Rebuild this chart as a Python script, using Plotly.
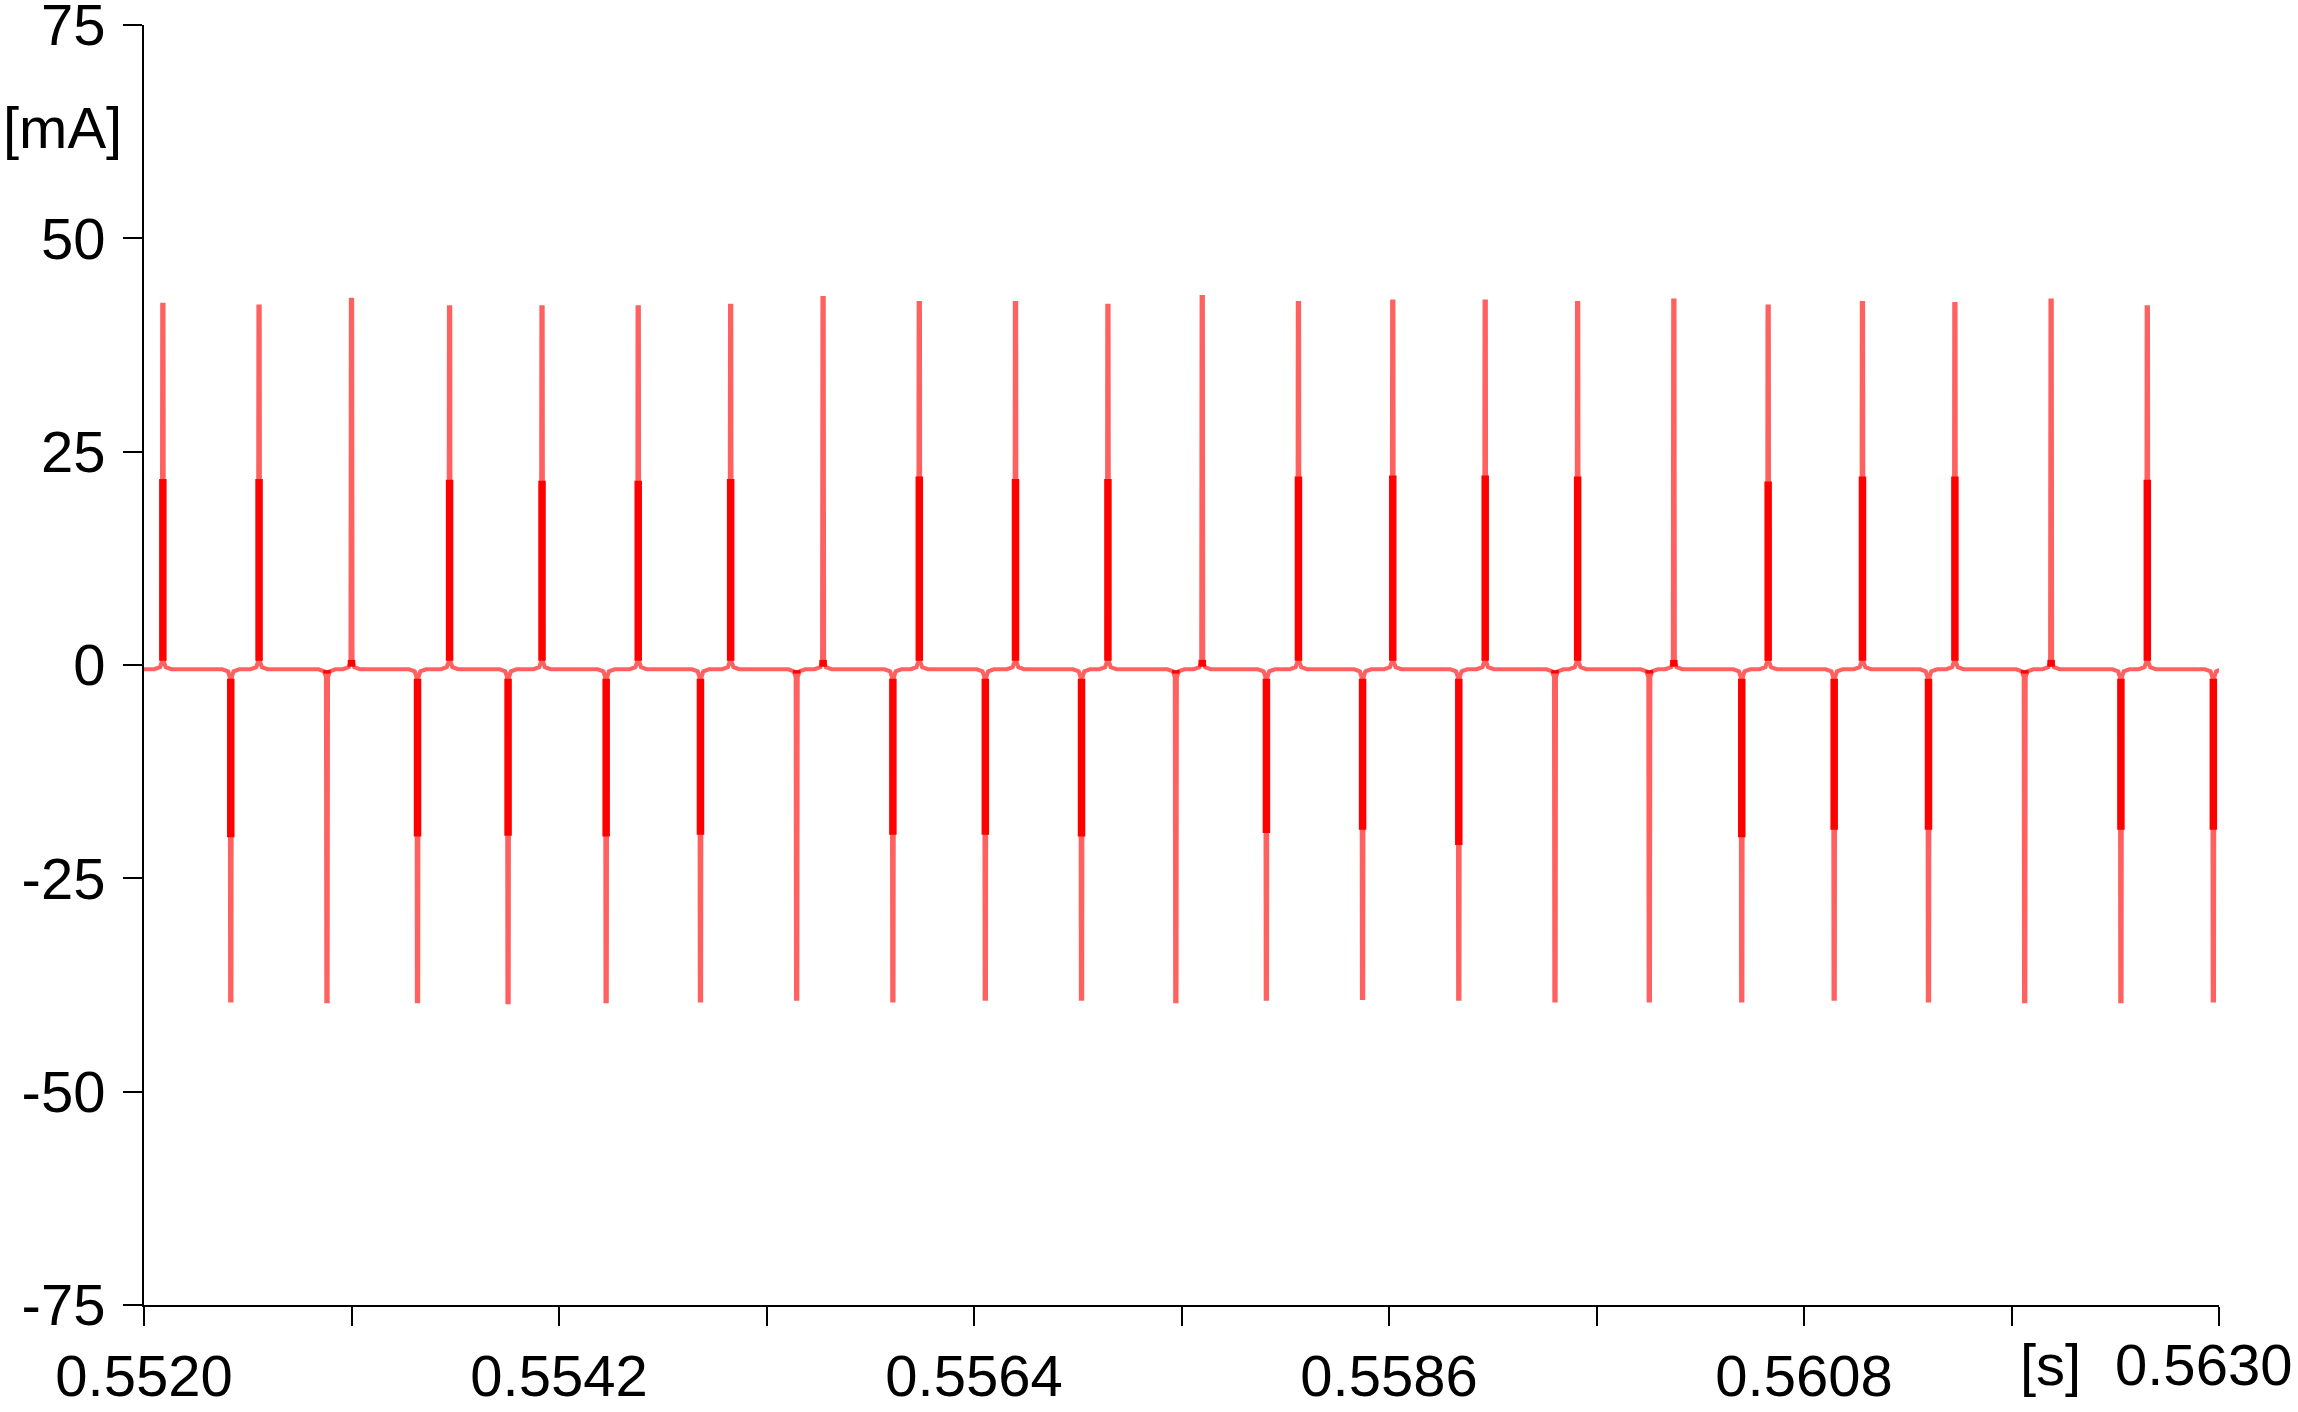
import plotly.graph_objects as go

# time of each spike [s] and amplitude [mA]
pos_t = [0.55210, 0.55261, 0.55310, 0.55362, 0.55411, 0.55462, 0.55511, 0.55560,
         0.55611, 0.55662, 0.55711, 0.55761, 0.55812, 0.55862, 0.55911, 0.55960,
         0.56011, 0.56061, 0.56111, 0.56160, 0.56211, 0.56262]
pos_peak = [42.2, 42.0, 42.8, 41.9, 41.9, 41.9, 42.1, 43.0, 42.4, 42.4, 42.1,
            43.1, 42.4, 42.6, 42.6, 42.4, 42.7, 42.0, 42.4, 42.3, 42.7, 41.9]
pos_red = [21.8, 21.8, 0.6, 21.7, 21.6, 21.6, 21.8, 0.6, 22.1, 21.8, 21.8,
           0.6, 22.1, 22.2, 22.2, 22.1, 0.6, 21.5, 22.1, 22.1, 0.6, 21.7]

neg_t = [0.55246, 0.55297, 0.55345, 0.55393, 0.55445, 0.55495, 0.55546, 0.55597,
         0.55646, 0.55697, 0.55747, 0.55795, 0.55846, 0.55897, 0.55948, 0.55998,
         0.56047, 0.56096, 0.56146, 0.56197, 0.56248, 0.56297]
neg_peak = [-39.3, -39.4, -39.4, -39.5, -39.4, -39.3, -39.1, -39.3, -39.1, -39.1,
            -39.4, -39.1, -39.0, -39.1, -39.3, -39.3, -39.3, -39.1, -39.3, -39.4,
            -39.4, -39.3]
neg_red = [-20.2, -1.0, -20.1, -20.0, -20.1, -19.9, -1.0, -19.9, -19.9, -20.1, -1.0,
           -19.7, -19.3, -21.1, -1.0, -1.0, -20.2, -19.3, -19.3, -1.0, -19.3, -19.3]

baseline = -0.5
t_start = 0.5520
t_end = 0.56307

x_ticks = [0.5520, 0.5531, 0.5542, 0.5553, 0.5564, 0.5575,
           0.5586, 0.5597, 0.5608, 0.5619, 0.5630]
x_tick_text = ["0.5520", "", "0.5542", "", "0.5564", "",
               "0.5586", "", "0.5608", "", ""]
y_ticks = [-75, -50, -25, 0, 25, 50, 75]
y_tick_text = ["-75", "-50", "-25", "0", "25", "50", "75"]

LIGHT = "#FF6161"
RED = "#FF0000"
FONT = "Liberation Sans, Arial, sans-serif"
FS = 58

# spike outline: shoulders of the baseline going into each spike
SHOULDER = [(-45e-6, 0.0), (-15e-6, 0.25), (-5e-6, 0.9)]
TOP_HALF = 3e-6


def build_light():
    events = sorted([(t, p, 1) for t, p in zip(pos_t, pos_peak)] +
                    [(t, p, -1) for t, p in zip(neg_t, neg_peak)])
    xs, ys = [t_start], [baseline]
    for t, peak, sign in events:
        for dt, dy in SHOULDER:
            xs.append(t + dt)
            ys.append(baseline + sign * dy)
        xs += [t - TOP_HALF, t + TOP_HALF]
        ys += [peak, peak]
        for dt, dy in reversed(SHOULDER):
            xs.append(t - dt)
            ys.append(baseline + sign * dy)
    xs.append(t_end)
    ys.append(baseline)
    return xs, ys


def build_red():
    xs, ys = [], []
    for t, peak in list(zip(pos_t, pos_red)) + list(zip(neg_t, neg_red)):
        if peak > 5:
            start = 0.5
        elif peak > 0:
            start = -0.2
        elif peak < -5:
            start = -1.6
        else:
            start = -0.6
        xs += [t, t, None]
        ys += [start, peak, None]
    return xs, ys


lx, ly = build_light()
rx, ry = build_red()

fig = go.Figure()
fig.add_trace(go.Scatter(x=lx, y=ly, mode="lines",
                         line=dict(color=LIGHT, width=4.2), hoverinfo="skip"))
fig.add_trace(go.Scatter(x=rx, y=ry, mode="lines",
                         line=dict(color=RED, width=7.5), hoverinfo="skip"))

axis_common = dict(
    showline=True, linecolor="black", linewidth=2,
    ticks="outside", ticklen=19, tickwidth=2, tickcolor="black",
    showgrid=False, zeroline=False, automargin=False,
    ticklabeloverflow="allow",
    tickfont=dict(family=FONT, size=FS, color="black"),
)

fig.update_layout(
    width=2298, height=1412,
    margin=dict(l=144, r=79, t=25, b=107),
    paper_bgcolor="white", plot_bgcolor="white",
    showlegend=False,
    xaxis=dict(range=[0.5520, 0.5630], tickmode="array",
               tickvals=x_ticks, ticktext=x_tick_text,
               ticklabelstandoff=0, **axis_common),
    yaxis=dict(range=[-75, 75], tickmode="array",
               tickvals=y_ticks, ticktext=y_tick_text,
               ticklabelstandoff=6, **axis_common),
    annotations=[
        dict(text="[mA]", xref="paper", yref="y", x=0, y=63,
             xanchor="right", yanchor="middle", xshift=-20, showarrow=False,
             font=dict(family=FONT, size=FS, color="black")),
        dict(text="[s]", xref="paper", yref="paper", x=(2050 - 144) / 2075, y=0,
             xanchor="center", yanchor="top", yshift=-25, showarrow=False,
             font=dict(family=FONT, size=FS, color="black")),
        dict(text="0.5630", xref="paper", yref="paper", x=1, y=0,
             xanchor="center", yanchor="top", xshift=-16, yshift=-25,
             showarrow=False,
             font=dict(family=FONT, size=FS, color="black")),
    ],
)

# drop the default 8px page margin so the figure fills the window exactly
fig.write_html("out.html", config={"displayModeBar": False},
               post_script="document.body.style.margin = '0';")
